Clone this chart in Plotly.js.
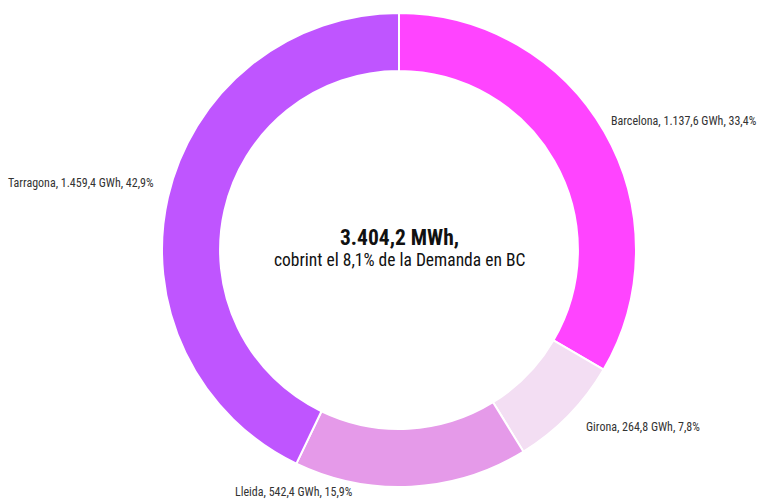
<!DOCTYPE html>
<html>
<head>
<meta charset="utf-8">
<script src="https://cdn.plot.ly/plotly-3.0.1.min.js"></script>
<style>html,body{margin:0;padding:0;background:#fff;}#chart{width:760px;height:501px;}</style>
</head>
<body>
<div id="chart"></div>
<script>
const provinces = ["Barcelona", "Girona", "Lleida", "Tarragona"];
const gwh = [1137.6, 264.8, 542.4, 1459.4];
const gwhLabels = ["1.137,6", "264,8", "542,4", "1.459,4"];
const pctLabels = ["33,4%", "7,8%", "15,9%", "42,9%"];
const colors = ["#FF44FF", "#F3DEF3", "#E59AE9", "#BF55FF"];
const totalLabel = "3.404,2 MWh,";
const subLabel = "cobrint el 8,1% de la Demanda en BC";

// label anchor positions (pixels) and alignment
const labelPos = [
  {x: 759, y: 121, xanchor: "right"},
  {x: 584, y: 427, xanchor: "left"},
  {x: 233, y: 492, xanchor: "left"},
  {x: 156, y: 183, xanchor: "right"}
];

const W = 760, H = 501;
const FONT = "Liberation Sans Narrow, Arial Narrow, Roboto Condensed, sans-serif";

const annotations = provinces.map((p, i) => ({
  xref: "paper", yref: "paper",
  x: (labelPos[i].x - 38) / (W - 38),
  y: (H - 14 - labelPos[i].y) / (H - 13 - 14),
  xanchor: labelPos[i].xanchor, yanchor: "middle",
  text: p + ", " + gwhLabels[i] + " GWh, " + pctLabels[i],
  showarrow: false,
  font: {family: FONT, size: 12, color: "#333"}
}));
annotations.push({
  xref: "paper", yref: "paper", x: 0.5, y: 0.5 + 13/474,
  xanchor: "center", yanchor: "middle", showarrow: false,
  text: "<b>" + totalLabel + "</b>",
  font: {family: FONT, size: 21.5, color: "#111"}
});
annotations.push({
  xref: "paper", yref: "paper", x: 0.5, y: 0.5 - 10/474,
  xanchor: "center", yanchor: "middle", showarrow: false,
  text: subLabel,
  font: {family: FONT, size: 17.5, color: "#111"}
});

Plotly.newPlot("chart", [{
  type: "pie",
  labels: provinces,
  values: gwh,
  sort: false,
  direction: "clockwise",
  rotation: 0,
  hole: 0.755,
  marker: {colors: colors, line: {color: "#ffffff", width: 2}},
  textinfo: "none",
  hoverinfo: "label+value+percent",
  showlegend: false
}], {
  width: W, height: H,
  margin: {l: 38, r: 0, t: 13, b: 14},
  paper_bgcolor: "#ffffff",
  plot_bgcolor: "#ffffff",
  showlegend: false,
  annotations: annotations
}, {displayModeBar: false, staticPlot: true});
</script>
</body>
</html>
